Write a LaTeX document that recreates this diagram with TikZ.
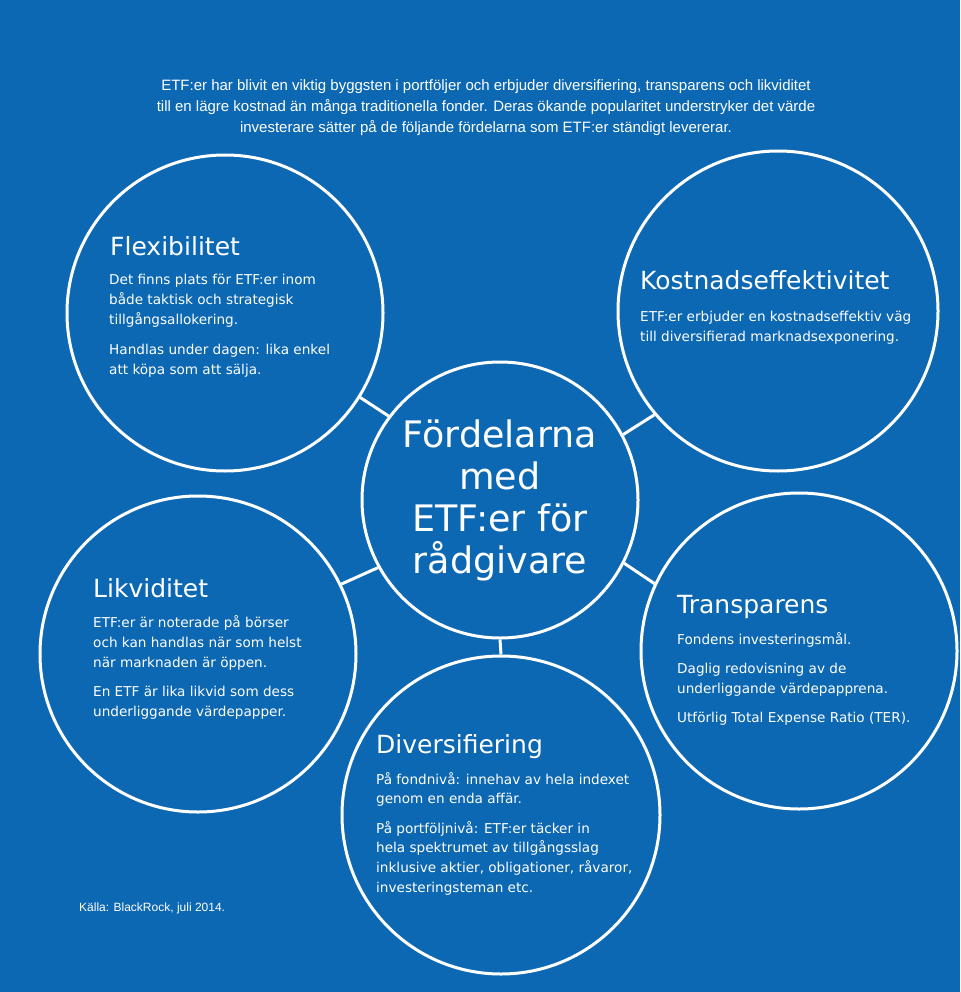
\documentclass[tikz,border=0pt]{standalone}
\usepackage{fontspec}
\setmainfont{DejaVu Sans}
\newfontfamily\introfont{Liberation Sans}
\definecolor{bg}{RGB}{12,104,178}
\begin{document}
\begin{tikzpicture}[x=1pt,y=-1pt,
  bubble/.style={circle,draw=white,line width=3pt,inner sep=0pt,minimum size=#1},
  link/.style={draw=white,line width=3pt},
  ttl/.style={anchor=base west,text=white,inner sep=0pt,font=\fontsize{25}{30}\selectfont},
  body/.style={anchor=base west,text=white,inner sep=0pt,align=left,font=\fontsize{13.6}{20}\selectfont},
  intro/.style={anchor=base,text=white,inner sep=0pt,font=\introfont\fontsize{15}{21}\selectfont},
]
\fill[bg] (0,0) rectangle (960,992);
\useasboundingbox (0,0) rectangle (960,992);

% intro
\node[intro] (i1) at (486,91) {ETF:er har blivit en viktig byggsten i portföljer och erbjuder diversifiering, transparens och likviditet};
\node[intro] (i2) at (486,112) {till en lägre kostnad än många traditionella fonder. Deras ökande popularitet understryker det värde};
\node[intro] (i3) at (486,133) {investerare sätter på de följande fördelarna som ETF:er ständigt levererar.};

% circles
\node[bubble=316pt] (flex) at (225,313) {};
\node[bubble=320pt] (cost) at (778,311) {};
\node[bubble=316pt] (liq) at (198,654) {};
\node[bubble=316pt] (transp) at (799,651) {};
\node[bubble=318pt] (divers) at (501,815) {};
\node[bubble=276pt] (core) at (500,500) {};

% connectors
\draw[link] (flex.-32) -- (core.143);
\draw[link] (cost.-140) -- (core.28);
\draw[link] (liq.26) -- (core.-151);
\draw[link] (transp.155) -- (core.-27);
\draw[link] (divers.90) -- (core.-90);

% core text (base = last line)
\node[anchor=base,text=white,inner sep=0pt,align=center,font=\fontsize{36.5}{41.7}\selectfont] (coretext) at (500,573) {Fördelarna\\med\\ETF:er för\\rådgivare};

% Flexibilitet
\node[ttl] (flext) at (110,255) {Flexibilitet};
\node[body] (flexb) at (109,374) {Det finns plats för ETF:er inom\\både taktisk och strategisk\\tillgångsallokering.\\[10pt]Handlas under dagen: lika enkel\\att köpa som att sälja.};

% Kostnadseffektivitet
\node[ttl] (costt) at (640,289) {Kostnadseffektivitet};
\node[body] (costb) at (640,341) {ETF:er erbjuder en kostnadseffektiv väg\\till diversifierad marknadsexponering.};

% Likviditet
\node[ttl] (liqt) at (93,597) {Likviditet};
\node[body] (liqb) at (93,716) {ETF:er är noterade på börser\\och kan handlas när som helst\\när marknaden är öppen.\\[9pt]En ETF är lika likvid som dess\\underliggande värdepapper.};

% Transparens
\node[ttl] (transpt) at (677,613) {Transparens};
\node[body] (transpb) at (677,722) {Fondens investeringsmål.\\[9pt]Daglig redovisning av de\\underliggande värdepapprena.\\[9pt]Utförlig Total Expense Ratio (TER).};

% Diversifiering
\node[ttl] (diverst) at (376,753) {Diversifiering};
\node[body,font=\fontsize{13.6}{19.6}\selectfont] (diversb) at (376,892) {På fondnivå: innehav av hela indexet\\genom en enda affär.\\[10pt]På portföljnivå: ETF:er täcker in\\hela spektrumet av tillgångsslag\\inklusive aktier, obligationer, råvaror,\\investeringsteman etc.};

% source
\node[anchor=base west,text=white,inner sep=0pt,font=\introfont\fontsize{12}{14}\selectfont] (src) at (79,911) {Källa: BlackRock, juli 2014.};
\end{tikzpicture}
\end{document}
